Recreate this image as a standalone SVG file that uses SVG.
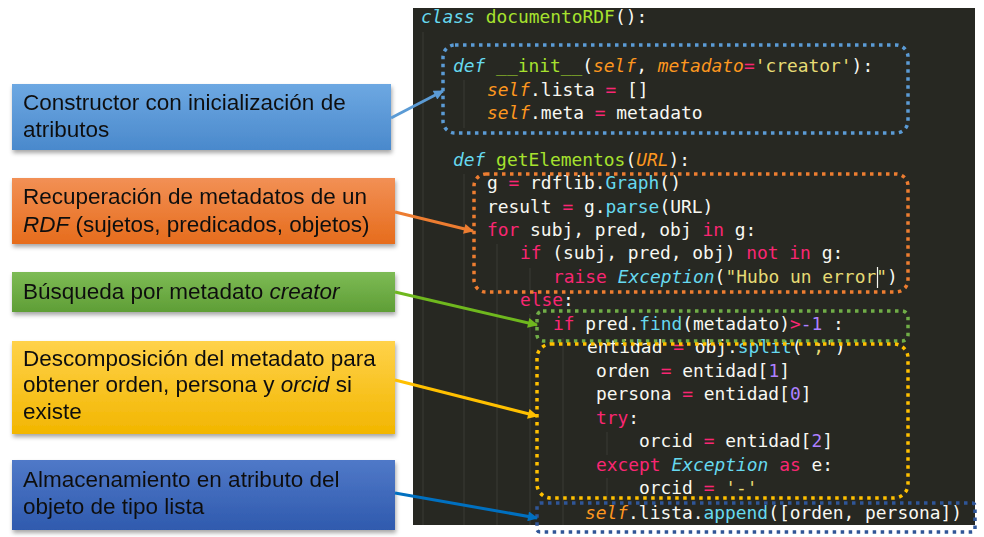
<svg xmlns="http://www.w3.org/2000/svg" width="984" height="537" viewBox="0 0 984 537">
<defs>
<style>
.code{font-family:"DejaVu Sans Mono","Liberation Mono",monospace;font-size:17.9px;fill:#F8F8F2}
.kw{fill:#F92672}
.ki{fill:#66D9EF;font-style:italic}
.fn{fill:#A6E22E}
.me{fill:#66D9EF}
.sf{fill:#FD971F;font-style:italic}
.st{fill:#E6DB74}
.nu{fill:#AE81FF}
.lbl{font-family:"Liberation Sans",Arial,sans-serif;font-size:22.5px;fill:#111}
.dot{fill:none;stroke-width:3.5;stroke-dasharray:3.5 4.5}
.guide{stroke:#3a3b35;stroke-width:1}
.arr{fill:none;stroke-width:3}
</style>
<linearGradient id="gBlue" x1="0" y1="0" x2="0" y2="1"><stop offset="0" stop-color="#6DA8E2"/><stop offset="1" stop-color="#4A89CC"/></linearGradient>
<linearGradient id="gOrange" x1="0" y1="0" x2="0" y2="1"><stop offset="0" stop-color="#F29055"/><stop offset="1" stop-color="#E66C1C"/></linearGradient>
<linearGradient id="gGreen" x1="0" y1="0" x2="0" y2="1"><stop offset="0" stop-color="#7DBB55"/><stop offset="1" stop-color="#5F9E36"/></linearGradient>
<linearGradient id="gYellow" x1="0" y1="0" x2="0" y2="1"><stop offset="0" stop-color="#FFD24A"/><stop offset="1" stop-color="#F2B600"/></linearGradient>
<linearGradient id="gDBlue" x1="0" y1="0" x2="0" y2="1"><stop offset="0" stop-color="#5079C8"/><stop offset="1" stop-color="#2F5AAE"/></linearGradient>
<filter id="sh" x="-5%" y="-20%" width="110%" height="150%"><feDropShadow dx="1" dy="3" stdDeviation="2" flood-color="#000" flood-opacity="0.35"/></filter>
<marker id="mBlue" viewBox="0 0 10 10" refX="9" refY="5" markerWidth="12" markerHeight="10" markerUnits="userSpaceOnUse" orient="auto"><path d="M0,0 L10,5 L0,10 z" fill="#5B9BD5"/></marker>
<marker id="mOrange" viewBox="0 0 10 10" refX="9" refY="5" markerWidth="12" markerHeight="10" markerUnits="userSpaceOnUse" orient="auto"><path d="M0,0 L10,5 L0,10 z" fill="#ED7D31"/></marker>
<marker id="mGreen" viewBox="0 0 10 10" refX="9" refY="5" markerWidth="12" markerHeight="10" markerUnits="userSpaceOnUse" orient="auto"><path d="M0,0 L10,5 L0,10 z" fill="#6FB81E"/></marker>
<marker id="mYellow" viewBox="0 0 10 10" refX="9" refY="5" markerWidth="12" markerHeight="10" markerUnits="userSpaceOnUse" orient="auto"><path d="M0,0 L10,5 L0,10 z" fill="#FFC000"/></marker>
<marker id="mDBlue" viewBox="0 0 10 10" refX="9" refY="5" markerWidth="12" markerHeight="10" markerUnits="userSpaceOnUse" orient="auto"><path d="M0,0 L10,5 L0,10 z" fill="#0070C0"/></marker>
</defs>
<rect x="0" y="0" width="984" height="537" fill="#FFFFFF"/>

<g id="code-panel">
<rect x="413" y="8" width="562" height="517" fill="#272822"/>
<line class="guide" x1="423" y1="32" x2="423" y2="525"/>
<line class="guide" x1="464" y1="80" x2="464" y2="128"/>
<line class="guide" x1="464" y1="174" x2="464" y2="525"/>
<line class="guide" x1="497" y1="244" x2="497" y2="525"/>
<line class="guide" x1="530" y1="268" x2="530" y2="290"/>
<line class="guide" x1="530" y1="314" x2="530" y2="525"/>
<line class="guide" x1="563" y1="338" x2="563" y2="525"/>
<line class="guide" x1="607" y1="432" x2="607" y2="455"/>
<line class="guide" x1="607" y1="478" x2="607" y2="500"/>
<text class="code" x="421" y="23"><tspan class="ki">class</tspan> <tspan class="fn">documentoRDF</tspan>():</text>
<text class="code" x="453" y="72"><tspan class="ki">def</tspan> <tspan class="fn">__init__</tspan>(<tspan class="sf">self</tspan>, <tspan class="sf">metadato</tspan><tspan class="kw">=</tspan><tspan class="st">'creator'</tspan>):</text>
<text class="code" x="487" y="96"><tspan class="sf">self</tspan>.lista <tspan class="kw">=</tspan> []</text>
<text class="code" x="487" y="119"><tspan class="sf">self</tspan>.meta <tspan class="kw">=</tspan> metadato</text>
<text class="code" x="453" y="166"><tspan class="ki">def</tspan> <tspan class="fn">getElementos</tspan>(<tspan class="sf">URL</tspan>):</text>
<text class="code" x="487" y="189">g <tspan class="kw">=</tspan> rdflib.<tspan class="me">Graph</tspan>()</text>
<text class="code" x="487" y="213">result <tspan class="kw">=</tspan> g.<tspan class="me">parse</tspan>(URL)</text>
<text class="code" x="487" y="236"><tspan class="kw">for</tspan> subj, pred, obj <tspan class="kw">in</tspan> g:</text>
<text class="code" x="520" y="259"><tspan class="kw">if</tspan> (subj, pred, obj) <tspan class="kw">not</tspan> <tspan class="kw">in</tspan> g:</text>
<text class="code" x="553" y="283"><tspan class="kw">raise</tspan> <tspan class="ki">Exception</tspan>(<tspan class="st">"Hubo un error"</tspan>)</text>
<line x1="877.5" y1="267" x2="877.5" y2="288" stroke="#F8F8F2" stroke-width="1.2"/>
<text class="code" x="520" y="306"><tspan class="kw">else</tspan>:</text>
<text class="code" x="553" y="330"><tspan class="kw">if</tspan> pred.<tspan class="me">find</tspan>(metadato)<tspan class="kw">&gt;</tspan><tspan class="nu">-1</tspan> :</text>
<text class="code" x="587" y="353">entidad <tspan class="kw">=</tspan> obj.<tspan class="me">split</tspan>(<tspan class="st">';'</tspan>)</text>
<text class="code" x="596" y="377">orden <tspan class="kw">=</tspan> entidad[<tspan class="nu">1</tspan>]</text>
<text class="code" x="596" y="400">persona <tspan class="kw">=</tspan> entidad[<tspan class="nu">0</tspan>]</text>
<text class="code" x="596" y="424"><tspan class="kw">try</tspan>:</text>
<text class="code" x="639" y="447">orcid <tspan class="kw">=</tspan> entidad[<tspan class="nu">2</tspan>]</text>
<text class="code" x="596" y="471"><tspan class="kw">except</tspan> <tspan class="ki">Exception</tspan> <tspan class="kw">as</tspan> e:</text>
<text class="code" x="639" y="494">orcid <tspan class="kw">=</tspan> <tspan class="st">'-'</tspan></text>
<text class="code" x="585" y="519"><tspan class="sf">self</tspan>.lista.<tspan class="me">append</tspan>([orden, persona])</text>
</g>

<g id="region-init"><rect class="dot" x="443" y="45" width="465" height="88" rx="12" stroke="#5B9BD5"/></g>
<g id="region-get"><rect class="dot" x="474" y="174" width="434" height="118" rx="12" stroke="#ED7D31"/></g>
<g id="region-find"><rect class="dot" x="537" y="311" width="371" height="30" rx="6" stroke="#70AD47"/></g>
<g id="region-split"><rect class="dot" x="537" y="344" width="371" height="154" rx="14" stroke="#FFC000"/></g>
<g id="region-append"><rect class="dot" x="537" y="503" width="438" height="29" rx="3" stroke="#2F5597"/></g>

<g id="node-constructor" filter="url(#sh)">
<rect x="12" y="84" width="379" height="66" fill="url(#gBlue)"/>
<text class="lbl" x="23" y="110">Constructor con inicialización de</text>
<text class="lbl" x="23" y="137">atributos</text>
</g>
<g id="node-recuperacion" filter="url(#sh)">
<rect x="12" y="178" width="383" height="66" fill="url(#gOrange)"/>
<text class="lbl" x="23" y="204">Recuperación de metadatos de un</text>
<text class="lbl" x="23" y="232"><tspan font-style="italic">RDF</tspan> (sujetos, predicados, objetos)</text>
</g>
<g id="node-busqueda" filter="url(#sh)">
<rect x="12" y="272" width="383" height="40" fill="url(#gGreen)"/>
<text class="lbl" x="23" y="299">Búsqueda por metadato <tspan font-style="italic">creator</tspan></text>
</g>
<g id="node-descomposicion" filter="url(#sh)">
<rect x="12" y="341" width="383" height="93" fill="url(#gYellow)"/>
<text class="lbl" x="23" y="366">Descomposición del metadato para</text>
<text class="lbl" x="23" y="392">obtener orden, persona y <tspan font-style="italic">orcid</tspan> si</text>
<text class="lbl" x="23" y="419">existe</text>
</g>
<g id="node-almacenamiento" filter="url(#sh)">
<rect x="12" y="460" width="383" height="70" fill="url(#gDBlue)"/>
<text class="lbl" x="23" y="487">Almacenamiento en atributo del</text>
<text class="lbl" x="23" y="514">objeto de tipo lista</text>
</g>

<g id="connectors">
<line class="arr" x1="391" y1="118" x2="443" y2="91" stroke="#5B9BD5" marker-end="url(#mBlue)"/>
<line class="arr" x1="395" y1="212" x2="473" y2="231" stroke="#ED7D31" marker-end="url(#mOrange)"/>
<line class="arr" x1="395" y1="292" x2="537" y2="325" stroke="#6FB81E" marker-end="url(#mGreen)"/>
<line class="arr" x1="395" y1="380" x2="537" y2="416" stroke="#FFC000" marker-end="url(#mYellow)"/>
<line class="arr" x1="395" y1="493" x2="537" y2="518" stroke="#0070C0" marker-end="url(#mDBlue)"/>
</g>
</svg>
